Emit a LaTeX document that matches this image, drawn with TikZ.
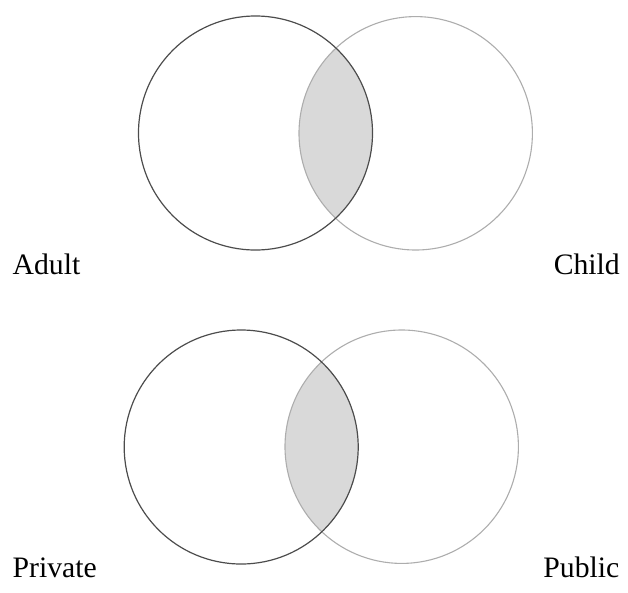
\documentclass[tikz,border=0pt]{standalone}
\usepackage{fontspec}
\setmainfont{Liberation Serif}
\begin{document}
\begin{tikzpicture}[x=1pt,y=-1pt,
  darkset/.style={circle,draw=black!70,line width=1.2pt,minimum size=234pt,inner sep=0pt},
  lightset/.style={circle,draw=black!32,line width=1.1pt,minimum size=233.4pt,inner sep=0pt},
  lens/.style={fill=black!15},
  lbl/.style={font=\fontsize{29.7}{34}\selectfont,inner sep=0pt}]
\useasboundingbox (0,0) rectangle (628,592);
% top diagram
\begin{scope}
  \clip (255.5,133) circle[radius=117];
  \fill[lens] (415.7,133.3) circle[radius=116.7];
\end{scope}
\node[lightset] (child) at (415.7,133.3) {};
\node[darkset] (adult) at (255.5,133) {};
\node[lbl,anchor=base west] (adultlbl) at (12.5,274.3) {Adult};
\node[lbl,anchor=base east] (childlbl) at (620,274.3) {Child};
% bottom diagram
\begin{scope}
  \clip (241.2,447) circle[radius=117];
  \fill[lens] (401.7,446.7) circle[radius=116.7];
\end{scope}
\node[lightset] (public) at (401.7,446.7) {};
\node[darkset] (private) at (241.2,447) {};
\node[lbl,anchor=base west] (privatelbl) at (12.5,577.7) {Private};
\node[lbl,anchor=base east] (publiclbl) at (619.5,577.7) {Public};
\end{tikzpicture}
\end{document}
